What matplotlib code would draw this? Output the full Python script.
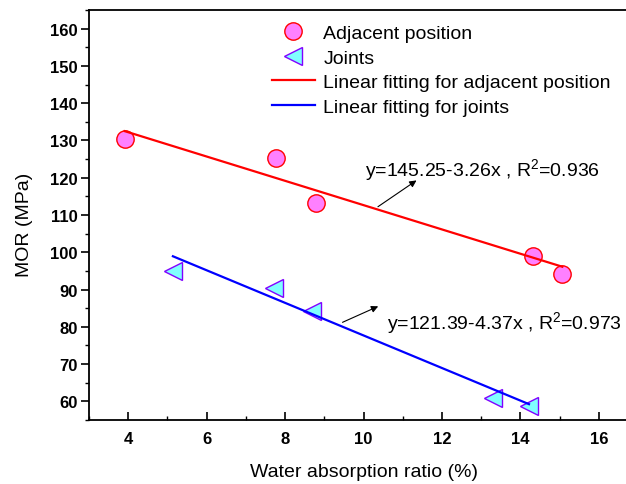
import matplotlib
matplotlib.use("Agg")
import matplotlib.pyplot as plt
import numpy as np

plt.rcParams['font.family'] = ['Liberation Sans', 'DejaVu Sans']
plt.rcParams['mathtext.fontset'] = 'custom'
plt.rcParams['mathtext.rm'] = 'Liberation Sans'
plt.rcParams['mathtext.it'] = 'Liberation Sans:italic'
plt.rcParams['mathtext.bf'] = 'Liberation Sans:bold'

# datos
x_adj = [3.91, 7.78, 8.78, 14.31, 15.07]
mor_adj = [130.4, 125.2, 113.2, 99.1, 94.2]
x_jun = [5.14, 7.73, 8.68, 13.29, 14.22]
mor_jun = [95.1, 90.4, 84.3, 61.0, 58.7]

# ajustes lineales (coeficientes del texto)
a_adj, b_adj, r2_adj = 145.25, -3.26, 0.936
a_jun, b_jun, r2_jun = 121.39, -4.37, 0.973

xticks = [4, 6, 8, 10, 12, 14, 16]
yticks = [60, 70, 80, 90, 100, 110, 120, 130, 140, 150, 160]

fig = plt.figure(figsize=(6.26, 4.85), dpi=100)
ax = fig.add_axes([89/626, 64/485, 549/626, 410/485])

xa = np.array([min(x_adj), max(x_adj)])
xj = np.array([min(x_jun), max(x_jun)])

ax.plot(x_adj, mor_adj, 'o', ms=12.5, mfc='#ff80ff', mec='#ff0000', mew=1,
        label='Adjacent position', zorder=3)
ax.plot(x_jun, mor_jun, '<', ms=12.5, mfc='#80ffff', mec='#8000ff', mew=1,
        label='Joints', zorder=3)
ax.plot(xa, a_adj + b_adj * xa, color='#ff0000', lw=1.6,
        label='Linear fitting for adjacent position', zorder=4)
ax.plot(xj, a_jun + b_jun * xj, color='#0000ff', lw=1.6,
        label='Linear fitting for joints', zorder=4)

ax.set_xlim(3, 17)
ax.set_ylim(55, 165)
ax.set_xticks(xticks)
ax.set_yticks(yticks)
ax.set_xticks(np.arange(3, 17, 1), minor=True)
ax.set_yticks(np.arange(55, 166, 5), minor=True)

ax.tick_params(axis='x', which='major', direction='in', length=6, width=1.2, pad=8,
               labelsize=12)
ax.tick_params(axis='x', which='minor', direction='in', length=3, width=1)
ax.tick_params(axis='y', which='major', direction='out', length=6, width=1.2, pad=2,
               labelsize=12)
ax.tick_params(axis='y', which='minor', direction='out', length=3, width=1)
for lab in ax.get_xticklabels() + ax.get_yticklabels():
    lab.set_fontweight('bold')
for s in ax.spines.values():
    s.set_linewidth(1.3)

ax.set_xlabel('Water absorption ratio (%)', fontsize=14, labelpad=12)
ax.set_ylabel('MOR (MPa)', fontsize=14)
ax.yaxis.set_label_coords(-0.102, 0.478)

# ecuaciones con flechas
ax.annotate('', xy=(11.41, 119.7), xytext=(10.31, 111.8),
            arrowprops=dict(arrowstyle='-|>', color='black', lw=0.8, mutation_scale=10))
ax.text(10.05, 122.4, 'y=145.25-3.26x , R$^{2}$=%.3f' % r2_adj, fontsize=14, va='center')
ax.annotate('', xy=(10.44, 85.8), xytext=(9.40, 80.9),
            arrowprops=dict(arrowstyle='-|>', color='black', lw=0.8, mutation_scale=10))
ax.text(10.61, 81.3, 'y=121.39-4.37x , R$^{2}$=%.3f' % r2_jun, fontsize=14, va='center')

ax.legend(loc='upper left', bbox_to_anchor=(0.333, 0.965), frameon=False, fontsize=14,
          borderpad=0, borderaxespad=0, handlelength=2.2, handletextpad=0.45,
          labelspacing=0.36)

fig.savefig('out.png', dpi=100)
